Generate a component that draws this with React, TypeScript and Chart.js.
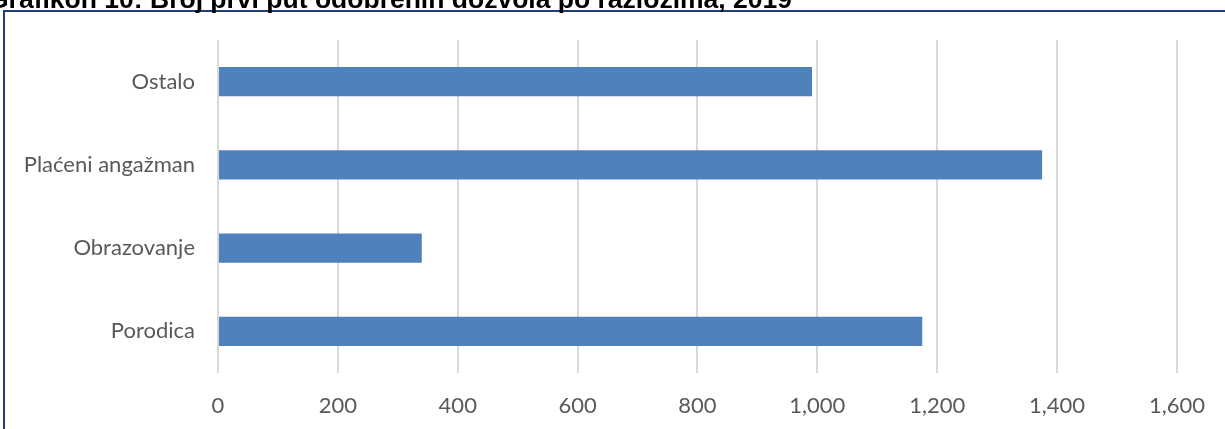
import React, { useEffect, useRef } from "react";
import { Chart, registerables } from "chart.js";

Chart.register(...registerables);

// Permit categories, top to bottom
const categories: string[] = ["Ostalo", "Plaćeni angažman", "Obrazovanje", "Porodica"];
// Number of first-time permits granted per reason
const permits: number[] = [991, 1375, 340, 1175];
// Value axis ticks
const xMin = 0;
const xMax = 1600;
const xStep = 200;

const titleText = "Grafikon 10: Broj prvi put odobrenih dozvola po razlozima, 2019";

const W = 1225;
const H = 429;

const labelFont = { family: "Lato, 'Open Sans', sans-serif", size: 22 };
const labelColor = "#595959";

// Draws the caption above the framed chart
const titlePlugin = {
  id: "captionText",
  afterDraw(chart: any) {
    const ctx = chart.ctx as CanvasRenderingContext2D;
    ctx.save();
    ctx.font = "bold 26.5px 'Liberation Sans', Arial, sans-serif";
    ctx.fillStyle = "#000000";
    ctx.textBaseline = "alphabetic";
    ctx.textAlign = "left";
    ctx.fillText(titleText, -12, 8);
    ctx.restore();
  },
};

export default function App() {
  const canvasRef = useRef<HTMLCanvasElement | null>(null);

  useEffect(() => {
    document.body.style.margin = "0";
    const canvas = canvasRef.current;
    if (!canvas) return;
    const chart = new Chart(canvas, {
      type: "bar",
      data: {
        labels: categories,
        datasets: [
          {
            label: "Broj dozvola",
            data: permits,
            backgroundColor: "#4F81BD",
            borderWidth: 0,
            categoryPercentage: 0.35,
            barPercentage: 1,
          },
        ],
      },
      options: {
        indexAxis: "y",
        responsive: false,
        animation: false,
        devicePixelRatio: 1,
        layout: { padding: { left: 0, right: 48, top: 40, bottom: 0 } },
        plugins: {
          legend: { display: false },
          tooltip: { enabled: false },
          title: { display: false },
        },
        scales: {
          x: {
            type: "linear",
            min: xMin,
            max: xMax,
            ticks: {
              stepSize: xStep,
              color: labelColor,
              font: labelFont,
              padding: 20,
              callback: (v: any) => Number(v).toLocaleString("en-US"),
            },
            grid: { color: "#D9D9D9", lineWidth: 2, drawTicks: false },
            border: { display: false },
            afterFit: (s: any) => {
              s.height = 56;
            },
          },
          y: {
            ticks: { color: labelColor, font: labelFont, padding: 23 },
            grid: { display: false, drawTicks: false },
            border: { display: false },
            afterFit: (s: any) => {
              s.width = 218;
            },
          },
        },
      },
      plugins: [titlePlugin],
    } as any);
    return () => chart.destroy();
  }, []);

  return (
    <div
      style={{
        position: "fixed",
        left: 0,
        top: 0,
        width: W,
        height: H,
        overflow: "hidden",
        background: "#ffffff",
      }}
    >
      <div
        style={{
          position: "absolute",
          left: 3,
          top: 10,
          width: W + 40,
          height: H + 40,
          border: "2px solid #1F3E7C",
          boxSizing: "border-box",
        }}
      />
      <canvas
        ref={canvasRef}
        width={W}
        height={H}
        style={{ position: "absolute", left: 0, top: 0, width: W, height: H }}
      />
    </div>
  );
}
